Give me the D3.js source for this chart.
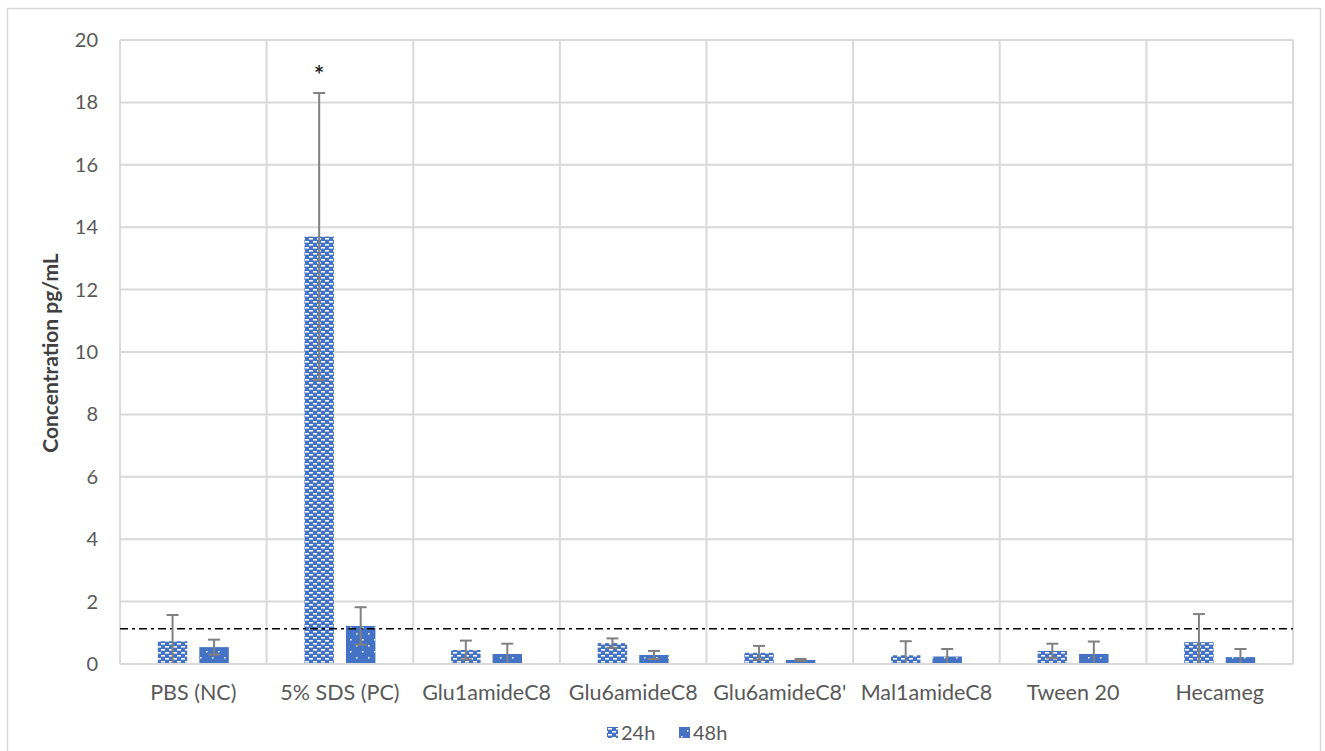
<!DOCTYPE html>
<html><head><meta charset="utf-8">
<script src="https://cdn.jsdelivr.net/npm/d3@7"></script>
<style>body{margin:0;background:#fff}svg{display:block}text{font-family:Lato,"Open Sans",sans-serif}</style>
</head><body>
<svg id="c" width="1325" height="751"></svg>
<script>
const categories = ["PBS (NC)","5% SDS (PC)","Glu1amideC8","Glu6amideC8","Glu6amideC8'","Mal1amideC8","Tween 20","Hecameg"];
const seriesNames = ["24h","48h"];
const values24 = [0.73,13.7,0.45,0.67,0.36,0.28,0.42,0.70];
const err24    = [0.84,4.6,0.30,0.15,0.22,0.45,0.23,0.90];
const values48 = [0.54,1.22,0.32,0.29,0.13,0.24,0.32,0.22];
const err48    = [0.24,0.60,0.33,0.13,0.03,0.24,0.40,0.26];
const yTicks = [0,2,4,6,8,10,12,14,16,18,20];
const thresholdValue = 1.13;
const significance = [{cat:"5% SDS (PC)", series:"24h", label:"*"}];

const svg = d3.select("#c");
const W=1325,H=751;
const m={l:120,r:32,t:40,b:87};
const pw=W-m.l-m.r, ph=H-m.t-m.b;
const blue="#4472C4", grid="#d9d9d9", txt="#595959", errc="#808080";
const fs="20px";

const defs=svg.append("defs");
const p1=defs.append("pattern").attr("id","p24").attr("patternUnits","userSpaceOnUse").attr("width",8).attr("height",6);
p1.append("rect").attr("width",8).attr("height",6).attr("fill",blue);
p1.append("rect").attr("x",1).attr("y",1).attr("width",4).attr("height",1.6).attr("fill","#fff");
p1.append("rect").attr("x",5).attr("y",4).attr("width",4).attr("height",1.6).attr("fill","#fff");
p1.append("rect").attr("x",-3).attr("y",4).attr("width",4).attr("height",1.6).attr("fill","#fff");
const p2=defs.append("pattern").attr("id","p48").attr("patternUnits","userSpaceOnUse").attr("width",12).attr("height",12);
p2.append("rect").attr("width",12).attr("height",12).attr("fill",blue);
p2.append("rect").attr("x",2).attr("y",3).attr("width",1.5).attr("height",1.5).attr("fill","#fff");
p2.append("rect").attr("x",8).attr("y",9).attr("width",1.5).attr("height",1.5).attr("fill","#fff");
const fills={"24h":"url(#p24)","48h":"url(#p48)"};

svg.append("rect").attr("x",7.5).attr("y",8.5).attr("width",1313).attr("height",760).attr("fill","none").attr("stroke",grid).attr("stroke-width",1.5);

const x=d3.scaleBand().domain(categories).range([m.l,m.l+pw]).paddingInner(0.516).paddingOuter(0.258);
const xi=d3.scaleBand().domain(seriesNames).range([0,x.bandwidth()]).paddingInner(0.29);
const y=d3.scaleLinear().domain([0,20]).range([m.t+ph,m.t]);

const g=svg.append("g");
g.selectAll(".hg").data(yTicks).join("line").attr("x1",m.l).attr("x2",m.l+pw)
 .attr("y1",d=>y(d)).attr("y2",d=>y(d)).attr("stroke",grid).attr("stroke-width",2);
const bounds=d3.range(categories.length+1).map(i=>m.l+i*x.step());
g.selectAll(".vg").data(bounds).join("line").attr("x1",d=>d).attr("x2",d=>d)
 .attr("y1",m.t).attr("y2",m.t+ph).attr("stroke",grid).attr("stroke-width",2);

const yAxis=d3.axisLeft(y).tickValues(yTicks).tickSize(0).tickPadding(22);
const ya=svg.append("g").attr("transform",`translate(${m.l},0)`).call(yAxis);
ya.select(".domain").remove();
ya.selectAll("text").attr("fill",txt).style("font-size",fs).style("font-family","Lato,sans-serif");

const data=[];
categories.forEach((c,i)=>{
  data.push({cat:c,s:"24h",v:values24[i],e:err24[i]});
  data.push({cat:c,s:"48h",v:values48[i],e:err48[i]});
});
svg.append("g").selectAll("rect").data(data).join("rect")
 .attr("x",d=>x(d.cat)+xi(d.s)).attr("width",xi.bandwidth())
 .attr("y",d=>y(d.v)).attr("height",d=>y(0)-y(d.v))
 .attr("fill",d=>fills[d.s]);

svg.append("line").attr("x1",m.l).attr("x2",m.l+pw).attr("y1",y(thresholdValue)).attr("y2",y(thresholdValue))
 .attr("stroke","#000").attr("stroke-width",1.6).attr("stroke-dasharray","8,4,3,4");

const eb=svg.append("g").attr("stroke",errc).attr("stroke-width",2);
data.forEach(d=>{
  const cx=x(d.cat)+xi(d.s)+xi.bandwidth()/2;
  const hi=d.v+d.e, lo=Math.max(0,d.v-d.e);
  eb.append("line").attr("x1",cx).attr("x2",cx).attr("y1",y(hi)).attr("y2",y(lo));
  eb.append("line").attr("x1",cx-6).attr("x2",cx+6).attr("y1",y(hi)).attr("y2",y(hi));
  if(d.v-d.e>0) eb.append("line").attr("x1",cx-6).attr("x2",cx+6).attr("y1",y(lo)).attr("y2",y(lo));
});

significance.forEach(s=>{
  const d=data.find(q=>q.cat===s.cat&&q.s===s.series);
  const cx=x(s.cat)+xi(s.series)+xi.bandwidth()/2;
  svg.append("text").attr("x",cx).attr("y",y(d.v+d.e)-9).attr("text-anchor","middle")
   .attr("fill","#262626").style("font-size","24px").style("font-weight","bold").text(s.label);
});

svg.append("line").attr("x1",m.l).attr("x2",m.l+pw).attr("y1",y(0)).attr("y2",y(0)).attr("stroke",grid).attr("stroke-width",2);
const xAxis=d3.axisBottom(x).tickSize(0).tickPadding(21);
const xa=svg.append("g").attr("transform",`translate(0,${y(0)})`).call(xAxis);
xa.select(".domain").remove();
xa.selectAll("text").attr("fill",txt).style("font-size","21.5px").style("font-family","Lato,sans-serif");

svg.append("text").attr("transform",`translate(58,${m.t+ph/2+1}) rotate(-90)`).attr("text-anchor","middle")
 .attr("fill","#404040").style("font-size","21px").style("font-weight","bold").text("Concentration pg/mL");

const lg=svg.append("g").attr("transform","translate(607,733)");
seriesNames.forEach((s,i)=>{
  const gx=i*72;
  lg.append("rect").attr("x",gx).attr("y",-6).attr("width",11).attr("height",11).attr("fill",fills[s]);
  lg.append("text").attr("x",gx+14).attr("y",7).attr("fill",txt).style("font-size",fs).text(s);
});
</script>
</body></html>
